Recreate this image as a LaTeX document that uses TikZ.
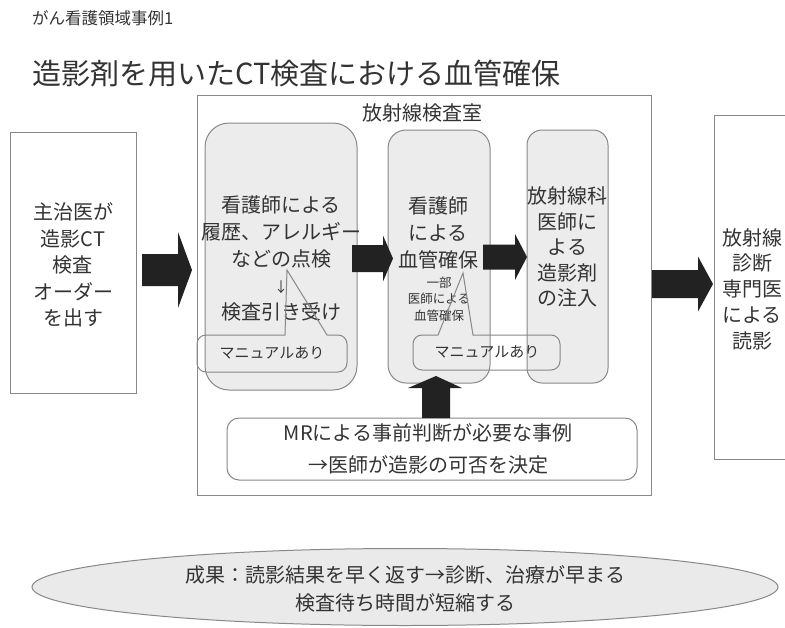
\documentclass[tikz,border=0pt]{standalone}
\usepackage{fontspec}
\setmainfont{Noto Sans CJK JP}
\usetikzlibrary{shapes.geometric}
\definecolor{txt}{HTML}{333333}
\definecolor{edge}{HTML}{888888}
\definecolor{boxfill}{HTML}{ECECEC}
\definecolor{ellfill}{HTML}{EAEAEA}
\definecolor{arr}{HTML}{222222}
\newcommand\myRarrow[6]{\fill[arr] (#1,#4-#5) -- (#2,#4-#5) -- (#2,#4-#6) -- (#3,#4) -- (#2,#4+#6) -- (#2,#4+#5) -- (#1,#4+#5) -- cycle;}
\tikzset{
  plainbox/.style={draw=edge, line width=1pt, fill=white, inner sep=0pt},
  rbox/.style={draw=edge, line width=1pt, fill=boxfill, inner sep=0pt},
  txtnode/.style={text=txt, align=center, inner sep=0pt},
  callout/.style={draw=edge, line width=1pt},
  big/.style={font=\fontsize{20pt}{#1}\selectfont},
}
\begin{document}
\begin{tikzpicture}[x=1pt,y=-1pt]
\useasboundingbox (0,0) rectangle (785,627);
% titles
\node[txtnode, anchor=west, font=\fontsize{16.5pt}{19pt}\selectfont] (sub) at (32,18) {がん看護領域事例1};
\node[txtnode, anchor=west, font=\fontsize{29pt}{33pt}\selectfont] (title) at (32,73) {造影剤を用いたCT検査における血管確保};
% outer boxes
\node[plainbox, minimum width=454pt, minimum height=400pt] (room) at (424,295) {};
\node[plainbox, minimum width=126pt, minimum height=261pt] (order) at (73,262.5) {};
\node[plainbox, minimum width=90pt, minimum height=344pt] (read) at (759,287) {};
\node[txtnode, font=\fontsize{20pt}{24pt}\selectfont] (roomt) at (422,113) {放射線検査室};
% rounded step boxes
\node[rbox, rounded corners=24pt, minimum width=152pt, minimum height=267pt] (s1) at (281,256.5) {};
\node[rbox, rounded corners=18pt, minimum width=102pt, minimum height=253pt] (s2) at (439,256.5) {};
\node[rbox, rounded corners=15pt, minimum width=81pt, minimum height=253pt] (s3) at (567.5,256.5) {};
\node[plainbox, rounded corners=12pt, minimum width=410pt, minimum height=62pt] (mr) at (432,449) {};
% texts
\node[txtnode, big=26.5pt] (ordert) at (73,265) {主治医が\\造影CT\\検査\\オーダー\\を出す};
\node[txtnode, big=26.8pt] (s1t) at (281,258.5) {看護師による\\履歴、アレルギー\\などの点検\\{\fontsize{14pt}{14pt}\selectfont ↓}\\検査引き受け};
\node[txtnode, big=27pt] (s2t) at (438,232.5) {看護師\\による\\血管確保};
\node[txtnode, font=\fontsize{12.5pt}{16.5pt}\selectfont] (s2s) at (439,299) {一部\\医師による\\血管確保};
\node[txtnode, big=25.5pt] (s3t) at (567.5,247) {放射線科\\医師に\\よる\\造影剤\\の注入};
\node[txtnode, big=25.8pt] (readt) at (752,289) {放射線\\診断\\専門医\\による\\読影};
\node[txtnode, big=31.5pt] (mrt) at (428,449) {MRによる事前判断が必要な事例\\→医師が造影の可否を決定};
% callouts
\draw[callout] (285,335) [rounded corners=9pt] -- (197,335) -- (197,372) -- (347,372) -- (347,335) [sharp corners] -- (327,335) -- (287,270) -- cycle;
\node[txtnode, font=\fontsize{15pt}{18pt}\selectfont] (c1) at (272,353) {マニュアルあり};
\draw[callout] (438,335) [rounded corners=9pt] -- (413,335) -- (413,370) -- (560,370) -- (560,335) [sharp corners] -- (473,335) -- (463,273) -- cycle;
\node[txtnode, font=\fontsize{15pt}{18pt}\selectfont] (c2) at (487,352) {マニュアルあり};
% block arrows
\myRarrow{142}{178}{192}{270}{16}{38}
\myRarrow{352}{383}{393}{258.5}{13.5}{23}
\myRarrow{483}{515}{527}{257}{12.5}{23}
\myRarrow{652}{698}{713}{284}{14}{27.5}
\fill[arr] (422,418) -- (422,388) -- (408,388) -- (436,376) -- (462,388) -- (450,388) -- (450,418) -- cycle;
% result ellipse
\node[ellipse, draw=edge, line width=1pt, fill=ellfill, minimum width=746pt, minimum height=77pt, inner sep=0pt] (res) at (405,587) {};
\node[txtnode, big=28pt] (rest) at (405,589) {成果：読影結果を早く返す→診断、治療が早まる\\検査待ち時間が短縮する};
\end{tikzpicture}
\end{document}
